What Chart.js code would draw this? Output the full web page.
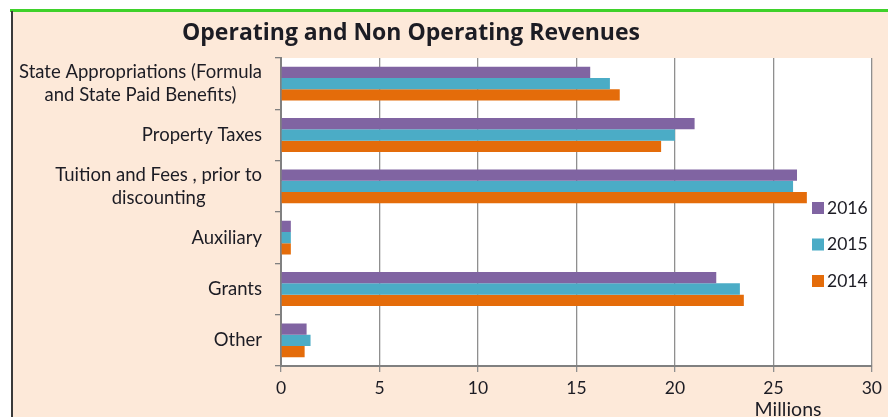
<!DOCTYPE html>
<html>
<head>
<meta charset="utf-8">
<script src="https://cdn.jsdelivr.net/npm/chart.js@4.4.1/dist/chart.umd.min.js"></script>
<style>
  html, body { margin: 0; padding: 0; background: #fff; }
  #wrap { width: 888px; height: 417px; }
</style>
</head>
<body>
<div id="wrap"><canvas id="chart" width="888" height="417"></canvas></div>
<script>
const chartTitle = "Operating and Non Operating Revenues";
const categories = [
  ["State Appropriations (Formula", "and State Paid Benefits)"],
  "Property Taxes",
  ["Tuition and Fees , prior to", "discounting"],
  "Auxiliary",
  "Grants",
  "Other"
];
const years = ["2016", "2015", "2014"];
const rev2016 = [15.7, 21.0, 26.2, 0.5, 22.1, 1.3];
const rev2015 = [16.7, 20.0, 26.0, 0.5, 23.3, 1.5];
const rev2014 = [17.2, 19.3, 26.7, 0.5, 23.5, 1.2];
const xTicks = [0, 5, 10, 15, 20, 25, 30];
const unitLabel = "Millions";

const colors = ["#8064A2", "#4BACC6", "#E46C0A"];
const textColor = "#1c1c24";
const fontFamily = "Lato, 'Open Sans', sans-serif";

// background, frame, title, category labels, legend
const decor = {
  id: "decor",
  beforeDraw(chart) {
    const { ctx, chartArea: a } = chart;
    ctx.save();
    ctx.fillStyle = "#fff";
    ctx.fillRect(0, 0, chart.width, chart.height);
    ctx.fillStyle = "#FDE9D9";
    ctx.fillRect(11, 10, chart.width - 11, chart.height - 10);
    ctx.fillStyle = "#fff";
    ctx.fillRect(a.left, a.top, a.right - a.left, a.bottom - a.top);
    ctx.strokeStyle = "#3fd12a";
    ctx.lineWidth = 3;
    ctx.beginPath(); ctx.moveTo(10, 10.5); ctx.lineTo(chart.width, 10.5); ctx.stroke();
    ctx.strokeStyle = "#3a3a3a";
    ctx.lineWidth = 2;
    ctx.beginPath(); ctx.moveTo(12, 11); ctx.lineTo(12, chart.height); ctx.stroke();
    ctx.restore();
  },
  afterDraw(chart) {
    const { ctx } = chart;
    const y = chart.scales.y;
    ctx.save();
    ctx.fillStyle = textColor;
    // title
    ctx.font = "bold 23px 'Open Sans', Lato, sans-serif";
    ctx.textAlign = "center";
    ctx.textBaseline = "middle";
    ctx.fillText(chartTitle, 411, 33);
    // category labels: block right aligned, lines centred
    ctx.font = "18.5px " + fontFamily;
    categories.forEach((lab, i) => {
      const lines = Array.isArray(lab) ? lab : [lab];
      const w = Math.max(...lines.map(l => ctx.measureText(l).width));
      const cx = 262 - w / 2;
      const cy = y.getPixelForValue(i);
      const lh = 23.5;
      lines.forEach((l, k) => {
        ctx.fillText(l, cx, cy + (k - (lines.length - 1) / 2) * lh);
      });
    });
    // legend
    ctx.font = "17.5px " + fontFamily;
    ctx.textAlign = "left";
    chart.data.datasets.forEach((ds, i) => {
      const ly = 208 + i * 36.5;
      ctx.fillStyle = ds.backgroundColor;
      ctx.fillRect(812, ly - 6, 12, 12);
      ctx.fillStyle = textColor;
      ctx.fillText(ds.label, 827, ly);
    });
    // unit label
    ctx.font = "19.5px " + fontFamily;
    ctx.textAlign = "center";
    ctx.fillText(unitLabel, 788, 410);
    ctx.restore();
  }
};

new Chart(document.getElementById("chart"), {
  type: "bar",
  data: {
    labels: categories,
    datasets: [
      { label: years[0], data: rev2016, backgroundColor: colors[0] },
      { label: years[1], data: rev2015, backgroundColor: colors[1] },
      { label: years[2], data: rev2014, backgroundColor: colors[2] }
    ]
  },
  options: {
    indexAxis: "y",
    responsive: false,
    animation: false,
    categoryPercentage: 0.66,
    barPercentage: 1.0,
    layout: { padding: { top: 58, right: 13, left: 0, bottom: 0 } },
    scales: {
      x: {
        min: xTicks[0],
        max: xTicks[xTicks.length - 1],
        afterBuildTicks: s => { s.ticks = xTicks.map(v => ({ value: v })); },
        afterFit: s => { s.height = 51; },
        ticks: { color: textColor, font: { family: fontFamily, size: 17.5 }, padding: 6, maxRotation: 0 },
        grid: { color: "#8f8f8f", lineWidth: 1.3, tickLength: 6 },
        border: { color: "#808080", width: 2 }
      },
      y: {
        afterFit: s => { s.width = 281; },
        ticks: { display: false },
        grid: { drawOnChartArea: false, tickLength: 6, color: "#808080", lineWidth: 1.3, offset: true },
        border: { color: "#808080", width: 2 }
      }
    },
    plugins: {
      legend: { display: false },
      tooltip: { enabled: false }
    }
  },
  plugins: [decor]
});
</script>
</body>
</html>
